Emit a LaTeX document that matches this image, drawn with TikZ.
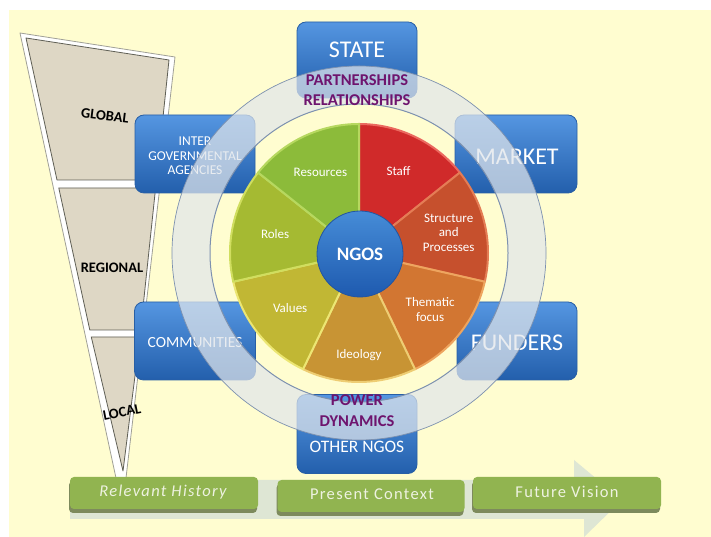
\documentclass[tikz,border=0pt]{standalone}
\usepackage{fontspec}
\setmainfont{Carlito}
\newfontfamily\phasefont[LetterSpace=8]{Carlito}
\usepackage{tikz}
\usetikzlibrary{calc,positioning,shadows}

\tikzset{
  level/.style={fill=levelcolor, draw=leveledge, line width=0.8pt, line join=round},
  scalelabel/.style={font=\bfseries\fontsize{14.5}{16}\selectfont, text=black},
  agent/.style={draw=agentedge, line width=0.8pt, rounded corners=9pt,
    top color=agenttop, bottom color=agentbot, minimum width=120pt,
    minimum height=78pt, inner sep=0pt},
  agenttext/.style={text=white, align=center},
  phase/.style={fill=phasecolor, rounded corners=4pt, minimum width=188pt,
    minimum height=32pt, inner sep=0pt,
    drop shadow={shadow xshift=-1pt, shadow yshift=-4pt, fill=phaseshadow, opacity=1}},
  phasetext/.style={text=phasefont, font=\phasefont\fontsize{16.5}{18}\selectfont},
  seglabel/.style={text=white, align=center, font=\fontsize{13}{14.5}\selectfont},
  hub/.style={circle, minimum size=86pt, inner sep=0pt, draw=hubedge, line width=0.8pt,
    top color=hubtop, bottom color=hubbot, text=white,
    font=\bfseries\fontsize{19}{21}\selectfont},
  bond/.style={text=bondcolor, font=\bfseries\fontsize{16.5}{18}\selectfont}
}

\begin{document}
\begin{tikzpicture}[x=1pt, y=1pt]

  % Colours
  \definecolor{paper}{RGB}{255,253,208}
  \definecolor{framecolor}{RGB}{160,160,150}
  \definecolor{levelcolor}{RGB}{222,215,197}
  \definecolor{leveledge}{RGB}{95,95,85}
  \definecolor{agenttop}{RGB}{85,150,225}
  \definecolor{agentbot}{RGB}{35,95,172}
  \definecolor{agentedge}{RGB}{40,95,165}
  \definecolor{ringfill}{RGB}{225,230,235}
  \definecolor{ringedge}{RGB}{125,145,175}
  \definecolor{trackcolor}{RGB}{222,230,212}
  \definecolor{phasecolor}{RGB}{145,180,80}
  \definecolor{phaseshadow}{RGB}{125,138,92}
  \definecolor{phasefont}{RGB}{238,242,225}
  \definecolor{hubtop}{RGB}{70,140,215}
  \definecolor{hubbot}{RGB}{30,90,175}
  \definecolor{hubedge}{RGB}{35,85,160}
  \definecolor{bondcolor}{RGB}{110,20,110}
  % pie segments: fill / edge
  \definecolor{staffc}{RGB}{208,42,42}     \definecolor{staffe}{RGB}{235,105,95}
  \definecolor{structc}{RGB}{198,80,45}    \definecolor{structe}{RGB}{228,125,85}
  \definecolor{themec}{RGB}{210,118,50}    \definecolor{themee}{RGB}{238,165,95}
  \definecolor{ideoc}{RGB}{200,148,52}     \definecolor{ideoe}{RGB}{238,205,115}
  \definecolor{valuec}{RGB}{193,183,52}    \definecolor{valuee}{RGB}{236,230,115}
  \definecolor{rolec}{RGB}{165,186,50}     \definecolor{rolee}{RGB}{208,222,95}
  \definecolor{resc}{RGB}{140,187,58}      \definecolor{rese}{RGB}{182,216,95}

  % Canvas
  \useasboundingbox (0,0) rectangle (711,537);
  \fill[white] (0,0) rectangle (711,537);
  \fill[paper] (9,0) rectangle (711,527);

  % Funnel of scales
  \filldraw[fill=white, draw=framecolor, line width=0.8pt, line join=round]
    (20,504) -- (175,480) -- (126,59) -- (116,59) -- cycle;
  \filldraw[level] (26,499) -- (169,477) -- (156.4,357) -- (57,357) -- cycle;
  \filldraw[level] (58.8,349) -- (155.6,349) -- (140.6,207) -- (89.8,207) -- cycle;
  \filldraw[level] (91.3,200) -- (139.9,200) -- (123,66) -- cycle;
  \node[scalelabel, rotate=-7] (global) at (105,421) {GLOBAL};
  \node[scalelabel] (regional) at (112,269) {REGIONAL};
  \node[scalelabel, rotate=11] (local) at (122,125) {LOCAL};

  % Time line arrow
  \fill[trackcolor] (70,57) -- (574,57) -- (574,77) -- (622,37) -- (584,0)
    -- (584,18) -- (70,18) -- cycle;
  \node[phase] (hist) at (164,44) {};
  \node[phase, minimum width=187pt] (pres) at (371,41) {};
  \node[phase] (fut) at (567,44) {};
  \node[phasetext, font=\phasefont\itshape\fontsize{16.5}{18}\selectfont] (histlbl) at (163,45) {Relevant History};
  \node[phasetext] (preslbl) at (372,43) {Present Context};
  \node[phasetext] (futlbl) at (567,45) {Future Vision};

  % Actors around the organisation
  \node[agent, minimum height=76pt] (state) at (357,477) {};
  \node[agenttext, font=\fontsize{24}{26}\selectfont] (statelbl) at (357,487) {STATE};
  \node[agent] (igo) at (195,383) {};
  \node[agenttext, font=\fontsize{13.5}{14.5}\selectfont] (igolbl) at (195,381) {INTER\\GOVERNMENTAL\\AGENCIES};
  \node[agent, minimum width=122pt] (market) at (516,383) {};
  \node[agenttext, font=\fontsize{24}{26}\selectfont] (marketlbl) at (517,380) {MARKET};
  \node[agent, minimum width=121pt] (comm) at (195,196) {};
  \node[agenttext, font=\fontsize{15.5}{17}\selectfont] (commlbl) at (195,194) {COMMUNITIES};
  \node[agent] (funders) at (517,196) {};
  \node[agenttext, font=\fontsize{24}{26}\selectfont] (funderslbl) at (517,194) {FUNDERS};
  \node[agent, minimum height=79pt] (others) at (357,103) {};
  \node[agenttext, font=\fontsize{17.5}{19}\selectfont] (otherslbl) at (357,90) {OTHER NGOS};

  % Translucent ring
  \coordinate (ctr) at (359,284);
  \fill[ringfill, opacity=0.72, even odd rule]
    (ctr) circle[radius=187] (ctr) circle[radius=149];
  \draw[ringedge, line width=0.7pt] (ctr) circle[radius=187];
  \draw[ringedge, line width=1pt] (ctr) circle[radius=149];

  % Pie of organisational aspects
  \foreach \k/\lbl/\fc/\sc/\rr in {0/Staff/staffc/staffe/91,
      1/{Structure\\and\\Processes}/structc/structe/92,
      2/{Thematic\\focus}/themec/themee/91,
      3/Ideology/ideoc/ideoe/102,
      4/Values/valuec/valuee/88,
      5/Roles/rolec/rolee/86,
      6/Resources/resc/rese/89} {
    \pgfmathsetmacro\sa{90-\k*360/7}
    \pgfmathsetmacro\ea{90-(\k+1)*360/7}
    \pgfmathsetmacro\ma{(\sa+\ea)/2}
    \filldraw[fill=\fc, draw=\sc, line width=2pt, line join=round]
      (ctr) -- ++(\sa:129) arc[start angle=\sa, end angle=\ea, radius=129] -- cycle;
    \node[seglabel] (seg\k) at ([shift={(\ma:\rr)}]ctr) {\lbl};
  }
  \node[hub] (ngos) at (360,283) {NGOS};

  % Relation labels on the ring
  \node[bond] (partner) at (357,457) {PARTNERSHIPS};
  \node[bond] (relation) at (357,437) {RELATIONSHIPS};
  \node[bond] (power) at (357,137) {POWER};
  \node[bond] (dynamics) at (357,116) {DYNAMICS};

\end{tikzpicture}
\end{document}
